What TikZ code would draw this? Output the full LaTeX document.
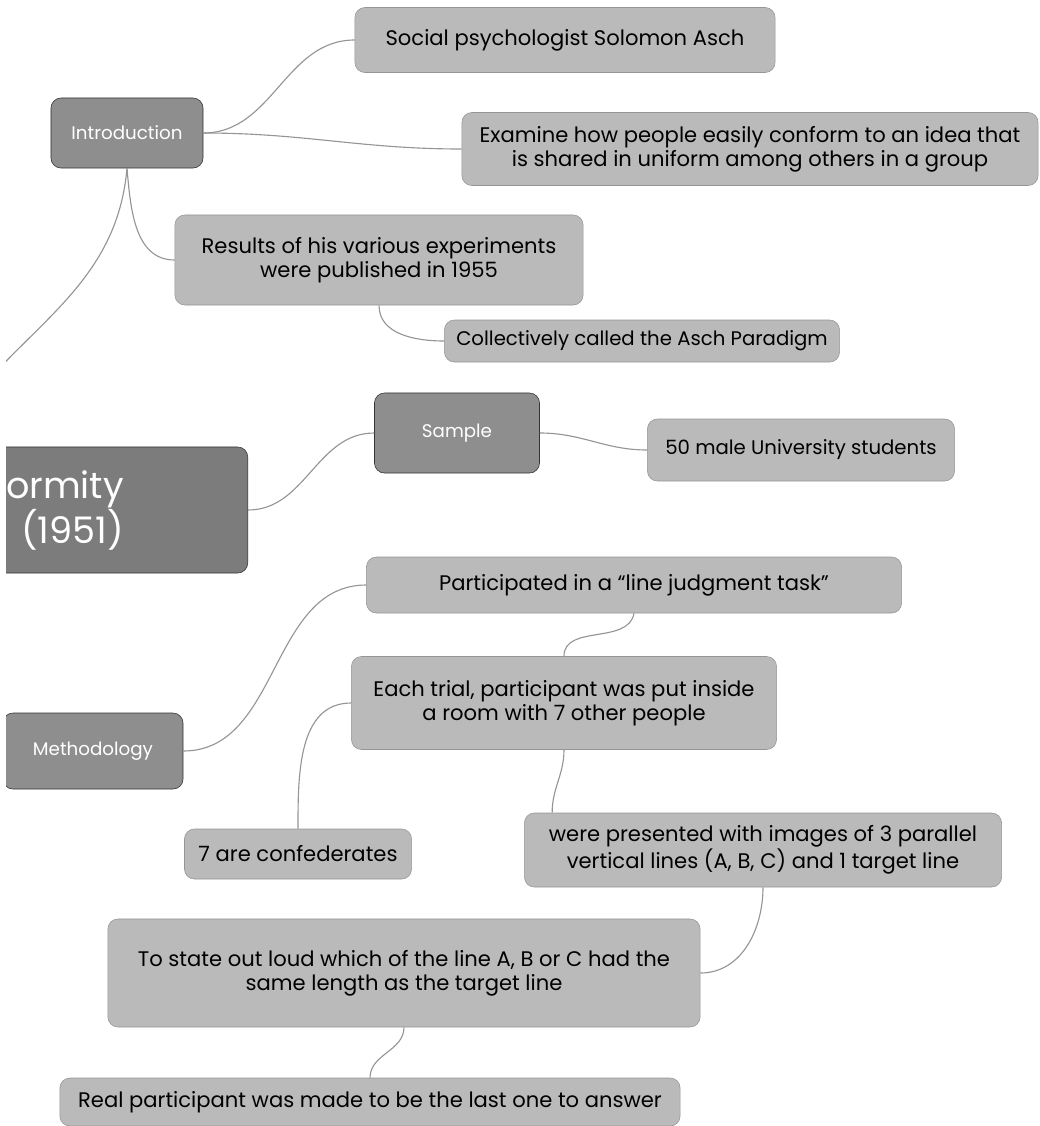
\documentclass[tikz,border=0pt]{standalone}
\usepackage{fontspec}
\setmainfont{Poppins}
\usetikzlibrary{calc}
\definecolor{leafGray}{HTML}{BABABA}
\definecolor{branchGray}{HTML}{8E8E8E}
\definecolor{rootGray}{HTML}{7C7C7C}
\definecolor{linkGray}{HTML}{959595}

\begin{document}
\begin{tikzpicture}[x=0.025cm,y=0.025cm,
    leaf/.style={draw=leafGray!80!black,fill=leafGray,rounded corners=0.25cm,
      align=center,inner sep=0pt,font=\fontsize{15}{17}\selectfont},
    branch/.style={draw=black!80,fill=branchGray,rounded corners=0.25cm,
      text=white,inner sep=0pt,font=\fontsize{13}{15}\selectfont},
    link/.style={draw=linkGray,line width=0.8pt}]
  \useasboundingbox (0,0) rectangle (1040,-1126);
  \clip (6,0) rectangle (1040,-1126);

  % main topic, mostly off the page on the left
  \node[branch,fill=rootGray,anchor=east,minimum height=3.15cm,
        text width=9.25cm,inner xsep=3.1cm,align=right,
        font=\fontsize{26}{28}\selectfont] (root) at (248,-510)
    {Conformity\\(1951)};

  % introduction
  \node[branch,minimum width=3.8cm,minimum height=1.75cm] (intro) at (127,-133)
    {Introduction};
  \node[leaf,minimum width=10.5cm,minimum height=1.625cm] (asch) at (565,-40)
    {Social psychologist Solomon Asch};
  \node[leaf,minimum width=14.4cm,minimum height=1.825cm] (aim) at (750,-149)
    {Examine how people easily conform to an idea that\\
     is shared in uniform among others in a group};
  \node[leaf,minimum width=10.2cm,minimum height=2.25cm] (results) at (379,-260)
    {Results of his various experiments\\were published in 1955};
  \node[leaf,minimum width=9.875cm,minimum height=1.05cm,
        font=\fontsize{14}{16}\selectfont] (paradigm) at (642,-341)
    {Collectively called the Asch Paradigm};

  % sample
  \node[branch,minimum width=4.125cm,minimum height=2cm] (sample) at (457,-433)
    {Sample};
  \node[leaf,minimum width=7.675cm,minimum height=1.55cm,
        font=\fontsize{14}{16}\selectfont] (students) at (801,-450)
    {50 male University students};

  % methodology
  \node[branch,minimum width=4.5cm,minimum height=1.9cm] (method) at (93,-751)
    {Methodology};
  \node[leaf,minimum width=13.375cm,minimum height=1.4cm] (task) at (634,-585)
    {Participated in a “line judgment task”};
  \node[leaf,minimum width=10.625cm,minimum height=2.325cm] (trial) at (564,-703)
    {Each trial, participant was put inside\\a room with 7 other people};
  \node[leaf,minimum width=5.675cm,minimum height=1.25cm] (confed) at (298,-854)
    {7 are confederates};
  \node[leaf,minimum width=11.925cm,minimum height=1.85cm] (images) at (763,-850)
    {were presented with images of 3 parallel\\vertical lines (A, B, C) and 1 target line};
  \node[leaf,minimum width=14.8cm,minimum height=2.7cm] (statement) at (404,-973)
    {To state out loud which of the line A, B or C had the\\same length as the target line};
  \node[leaf,minimum width=15.5cm,minimum height=1.2cm] (answer) at (370,-1102)
    {Real participant was made to be the last one to answer};

  \draw[link] (root.north) to[out=60,in=-95] (intro.south);
  \draw[link] (intro.east) to[out=0,in=180] (asch.west);
  \draw[link] (intro.east) to[out=0,in=180] (aim.west);
  \draw[link] (intro.south) to[out=-85,in=180] (results.west);
  \draw[link] (results.south) to[out=-90,in=180] (paradigm.west);
  \draw[link] (root.east) to[out=0,in=180] (sample.west);
  \draw[link] (sample.east) to[out=0,in=180] (students.west);
  \draw[link] (method.east) to[out=0,in=180] (task.west);
  \draw[link] (task.south) to[out=-100,in=90] (trial.north);
  \draw[link] (trial.west) to[out=180,in=90] (confed.north);
  \draw[link] (trial.south) to[out=-90,in=90] ($(images.north west)+(28,0)$);
  \draw[link] (images.south) to[out=-90,in=0] (statement.east);
  \draw[link] (statement.south) to[out=-90,in=90] (answer.north);
\end{tikzpicture}
\end{document}
